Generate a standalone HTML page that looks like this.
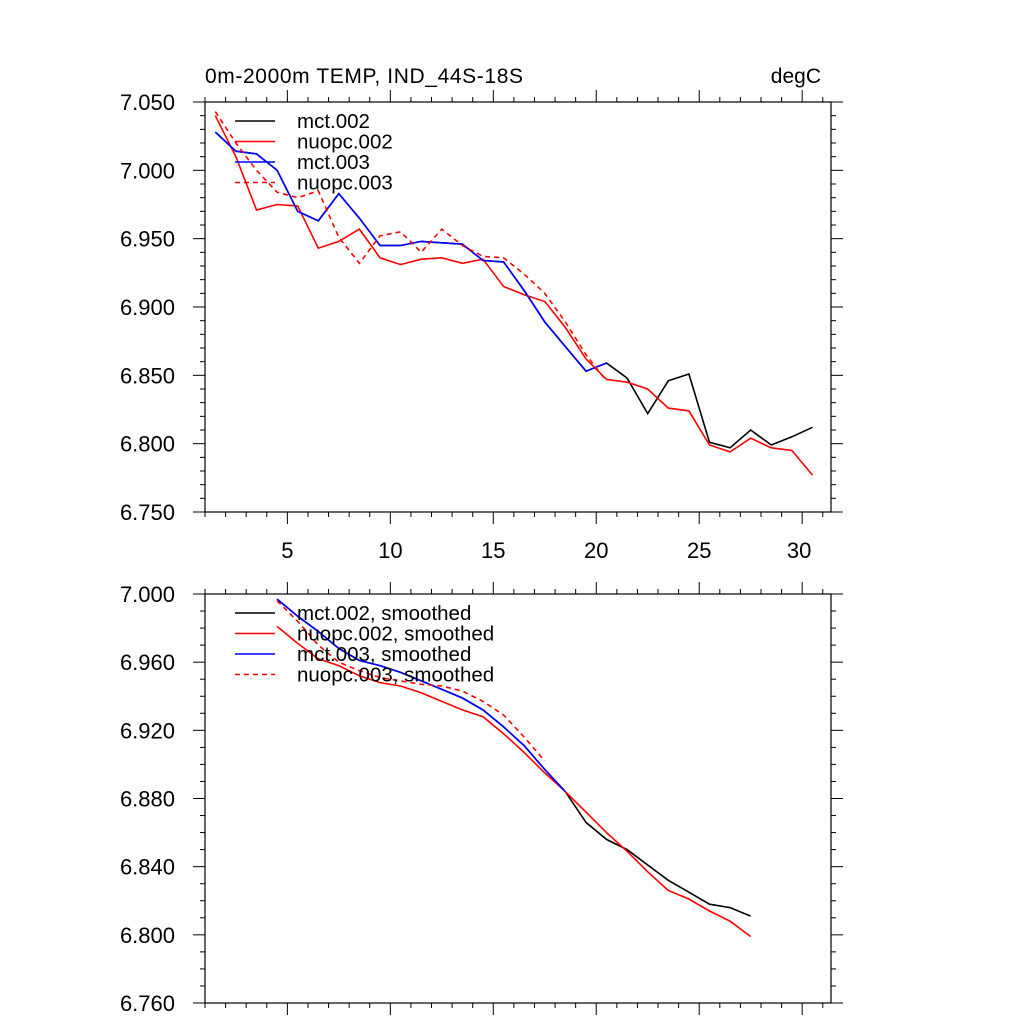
<!DOCTYPE html>
<html><head><meta charset="utf-8"><style>
html,body{margin:0;padding:0;background:#fff;}
svg{display:block;font-family:"Liberation Sans",Arial,sans-serif;}
</style></head><body>
<svg id="chart" width="1024" height="1024" viewBox="0 0 1024 1024" xmlns="http://www.w3.org/2000/svg">
<rect width="1024" height="1024" fill="#fff"/>
<text x="205" y="83" font-size="21" textLength="318">0m-2000m TEMP, IND_44S-18S</text>
<text x="821" y="83" font-size="21" text-anchor="end">degC</text>
</svg>
<script>
const xsTop = [1.5,2.5,3.5,4.5,5.5,6.5,7.5,8.5,9.5,10.5,11.5,12.5,13.5,14.5,15.5,16.5,17.5,18.5,19.5,20.5,21.5,22.5,23.5,24.5,25.5,26.5,27.5,28.5,29.5,30.5];
const mct002 = [7.028,7.014,7.012,7.000,6.970,6.963,6.983,6.965,6.945,6.945,6.948,6.947,6.946,6.934,6.933,6.912,6.889,6.871,6.853,6.859,6.848,6.822,6.846,6.851,6.801,6.797,6.810,6.799,6.805,6.812];
const nuopc002 = [7.040,7.010,6.971,6.975,6.974,6.943,6.948,6.957,6.936,6.931,6.935,6.936,6.932,6.935,6.915,6.909,6.904,6.885,6.862,6.847,6.845,6.840,6.826,6.824,6.799,6.794,6.804,6.797,6.795,6.777];
const mct003 = [7.028,7.014,7.012,7.000,6.970,6.963,6.983,6.965,6.945,6.945,6.948,6.947,6.946,6.934,6.933,6.912,6.889,6.871,6.853,6.859];
const nuopc003 = [7.043,7.020,7.000,6.984,6.980,6.985,6.951,6.932,6.952,6.955,6.940,6.957,6.945,6.937,6.936,6.924,6.910,6.889,6.865,6.846];
const xsBot = [4.5,5.5,6.5,7.5,8.5,9.5,10.5,11.5,12.5,13.5,14.5,15.5,16.5,17.5,18.5,19.5,20.5,21.5,22.5,23.5,24.5,25.5,26.5,27.5];
const mct002s = [6.997,6.987,6.978,6.968,6.961,6.958,6.954,6.949,6.944,6.939,6.932,6.922,6.911,6.897,6.884,6.866,6.856,6.850,6.841,6.832,6.825,6.818,6.816,6.811];
const nuopc002s = [6.981,6.971,6.962,6.958,6.952,6.948,6.946,6.942,6.937,6.932,6.928,6.918,6.907,6.895,6.884,6.872,6.860,6.849,6.837,6.826,6.821,6.814,6.808,6.799];
const mct003s = [6.997,6.987,6.978,6.968,6.961,6.958,6.954,6.949,6.944,6.939,6.932,6.922,6.911,6.897,6.884];
const nuopc003s = [6.996,6.984,6.970,6.960,6.955,6.951,6.949,6.947,6.946,6.943,6.937,6.929,6.916,6.902];
const xTickLabels = [5,10,15,20,25,30];
const yTicksTop = [6.750,6.800,6.850,6.900,6.950,7.000,7.050];
const yTicksBot = [6.760,6.800,6.840,6.880,6.920,6.960,7.000];

const NS="http://www.w3.org/2000/svg";
const svg=document.getElementById('chart');
function el(tag,attrs,parent){const e=document.createElementNS(NS,tag);for(const k in attrs)e.setAttribute(k,attrs[k]);(parent||svg).appendChild(e);return e;}
const X0=205,X1=831,XMIN=1,XMAX=31.4;
function sx(v){return X0+(v-XMIN)/(XMAX-XMIN)*(X1-X0);}

function panel(name,top,bot,ymin,ymax,yTicks,minorStep,showXLabels,series,legendY,labels){
  const g=el('g',{});
  
  
  const sy=v=>bot-(v-ymin)/(ymax-ymin)*(bot-top);
  for(let v=1;v<=31;v++){
    const major=xTickLabels.includes(v);
    const L=major?12:5;
    el('line',{x1:sx(v),x2:sx(v),y1:bot,y2:bot+L,stroke:'#000','stroke-width':1},g);
    el('line',{x1:sx(v),x2:sx(v),y1:top,y2:top-L,stroke:'#000','stroke-width':1},g);
  }
  const n=Math.round((ymax-ymin)/minorStep);
  for(let i=0;i<=n;i++){
    const v=ymin+i*minorStep;
    const major=yTicks.some(t=>Math.abs(t-v)<1e-6);
    const L=major?12:5;
    el('line',{x1:X0,x2:X0-L,y1:sy(v),y2:sy(v),stroke:'#000','stroke-width':1},g);
    el('line',{x1:X1,x2:X1+L,y1:sy(v),y2:sy(v),stroke:'#000','stroke-width':1},g);
  }
  yTicks.forEach(t=>{
    const tx=el('text',{x:175,y:sy(t)+8,'font-size':22,'text-anchor':'end'},g);
    tx.textContent=t.toFixed(3);
    
    
  });
  if(showXLabels){
    xTickLabels.forEach(t=>{
      const tx=el('text',{x:sx(t)-(t>=30?3:0),y:bot+46,'font-size':22,'text-anchor':'middle'},g);
      tx.textContent=t;
      
      
    });
  }
  series.forEach((s,i)=>{
    const pts=s.ys.map((y,j)=>sx(s.xs[j]).toFixed(1)+','+sy(y).toFixed(1)).join(' ');
    const p=el('polyline',{points:pts,fill:'none',stroke:s.color,'stroke-width':1.6,'stroke-dasharray':s.dash||'none'},g);
    
    
  });
  el('rect',{x:X0,y:top,width:X1-X0,height:bot-top,fill:'none',stroke:'#000','stroke-width':1.2},g);
  labels.forEach((lab,i)=>{
    const s=series[i];
    const yy=legendY+i*20.5;
    const ln=el('line',{x1:235,x2:275,y1:yy,y2:yy,stroke:s.color,'stroke-width':1.6,'stroke-dasharray':s.dash||'none'},g);
    
    
    const tx=el('text',{x:297,y:yy+7,'font-size':20.5},g);
    tx.textContent=lab;
    
    
  });
}
panel('top-panel',102,512,6.75,7.05,yTicksTop,0.01,true,[
  {name:'mct002-line',xs:xsTop,ys:mct002,color:'#000'},
  {name:'nuopc002-line',xs:xsTop,ys:nuopc002,color:'#f00'},
  {name:'mct003-line',xs:xsTop,ys:mct003,color:'#00f'},
  {name:'nuopc003-line',xs:xsTop,ys:nuopc003,color:'#f00',dash:'5,4'}
],121,['mct.002','nuopc.002','mct.003','nuopc.003']);
panel('bottom-panel',594,1003,6.76,7.0,yTicksBot,0.01,false,[
  {name:'mct002-smoothed-line',xs:xsBot,ys:mct002s,color:'#000'},
  {name:'nuopc002-smoothed-line',xs:xsBot,ys:nuopc002s,color:'#f00'},
  {name:'mct003-smoothed-line',xs:xsBot,ys:mct003s,color:'#00f'},
  {name:'nuopc003-smoothed-line',xs:xsBot,ys:nuopc003s,color:'#f00',dash:'5,4'}
],613,['mct.002, smoothed','nuopc.002, smoothed','mct.003, smoothed','nuopc.003, smoothed']);
</script>
</body></html>
